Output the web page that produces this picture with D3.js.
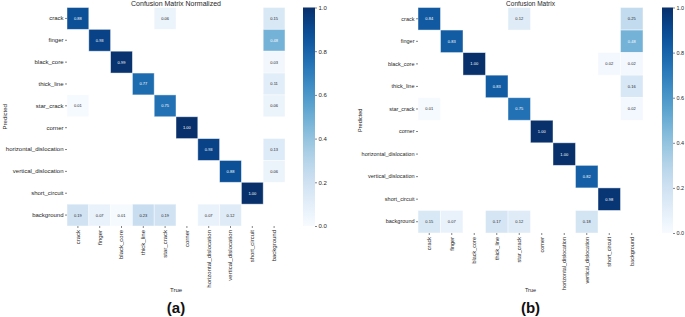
<!DOCTYPE html>
<html><head><meta charset="utf-8">
<script src="https://cdn.jsdelivr.net/npm/d3@7"></script>
<style>body{margin:0;background:#fff}svg{display:block;font-family:"Liberation Sans",Arial,sans-serif}</style>
</head><body><svg id="c" width="685" height="317"></svg>
<script>
const labels = ["crack","finger","black_core","thick_line","star_crack","corner","horizontal_dislocation","vertical_dislocation","short_circuit","background"];
const matrixA = [
  [0.88,0,0,0,0.06,0,0,0,0,0.15],
  [0,0.93,0,0,0,0,0,0,0,0.48],
  [0,0,0.99,0,0,0,0,0,0,0.03],
  [0,0,0,0.77,0,0,0,0,0,0.11],
  [0.01,0,0,0,0.75,0,0,0,0,0.06],
  [0,0,0,0,0,1.00,0,0,0,0],
  [0,0,0,0,0,0,0.93,0,0,0.13],
  [0,0,0,0,0,0,0,0.88,0,0.06],
  [0,0,0,0,0,0,0,0,1.00,0],
  [0.19,0.07,0.01,0.23,0.19,0,0.07,0.12,0,0]
];
const matrixB = [
  [0.84,0,0,0,0.12,0,0,0,0,0.25],
  [0,0.83,0,0,0,0,0,0,0,0.48],
  [0,0,1.00,0,0,0,0,0,0.02,0.02],
  [0,0,0,0.83,0,0,0,0,0,0.16],
  [0.01,0,0,0,0.75,0,0,0,0,0.02],
  [0,0,0,0,0,1.00,0,0,0,0],
  [0,0,0,0,0,0,1.00,0,0,0],
  [0,0,0,0,0,0,0,0.82,0,0],
  [0,0,0,0,0,0,0,0,0.98,0],
  [0.15,0.07,0,0.17,0.12,0,0,0.18,0,0]
];
const cbTicks = [0,0.2,0.4,0.6,0.8,1.0];

const svg = d3.select("#c");
const color = d3.scaleSequential(d3.interpolateBlues).domain([0,1]);
const defs = svg.append("defs");
const grad = defs.append("linearGradient").attr("id","gb").attr("x1",0).attr("y1",1).attr("x2",0).attr("y2",0);
d3.range(0,1.0001,0.05).forEach(t=>grad.append("stop").attr("offset",t).attr("stop-color",color(t)));

function panel(o){
  const g = svg.append("g");
  const x = d3.scaleBand().domain(labels).range([o.x0,o.x1]);
  const y = d3.scaleBand().domain(labels).range([o.y0,o.y1]);
  const cells = [];
  o.data.forEach((row,i)=>row.forEach((v,j)=>{ if(v>0) cells.push({r:labels[i],c:labels[j],v}); }));
  g.selectAll("rect.cell").data(cells).join("rect")
    .attr("x",d=>x(d.c)).attr("y",d=>y(d.r))
    .attr("width",x.bandwidth()).attr("height",y.bandwidth())
    .attr("fill",d=>color(d.v)).attr("stroke","rgba(255,255,255,0.55)").attr("stroke-width",0.8);
  g.selectAll("text.ann").data(cells).join("text")
    .attr("x",d=>x(d.c)+x.bandwidth()/2).attr("y",d=>y(d.r)+y.bandwidth()/2)
    .attr("text-anchor","middle").attr("dominant-baseline","central")
    .attr("font-size",o.annFs).attr("fill",d=>d.v>=0.45?"#fff":"#262626")
    .text(d=>d.v.toFixed(2));
  const ya = g.append("g").attr("transform",`translate(${o.x0},0)`)
    .call(d3.axisLeft(y).tickSize(2).tickPadding(1.5));
  ya.select(".domain").remove();
  ya.selectAll("text").attr("font-size",o.fs).attr("fill","#262626");
  ya.selectAll("line").attr("stroke","#333").attr("stroke-width",0.6);
  const xa = g.append("g").attr("transform",`translate(0,${o.y1})`)
    .call(d3.axisBottom(x).tickSize(2).tickPadding(1.5));
  xa.select(".domain").remove();
  xa.selectAll("line").attr("stroke","#333").attr("stroke-width",0.6);
  xa.selectAll("text").attr("font-size",o.fs).attr("fill","#262626")
    .attr("transform","rotate(-90)").attr("text-anchor","end")
    .attr("dy","0.32em").attr("x",-4).attr("y",0);
  const cx = (o.x0+o.x1)/2;
  g.append("text").attr("x",cx).attr("y",6).attr("text-anchor","middle")
    .attr("font-size",o.titleFs).attr("fill","#262626").text(o.title);
  g.append("text").attr("x",cx).attr("y",292).attr("text-anchor","middle")
    .attr("font-size",o.fs).attr("fill","#262626").text("True");
  g.append("text").attr("transform",`translate(${o.predX},${(o.y0+o.y1)/2}) rotate(-90)`)
    .attr("text-anchor","middle").attr("font-size",o.fs).attr("fill","#262626").text("Predicted");
  g.append("text").attr("x",cx).attr("y",313).attr("text-anchor","middle")
    .attr("font-size",15).attr("font-weight","bold").attr("fill","#111").text(o.tag);
  // colorbar
  const cy = d3.scaleLinear().domain([0,1]).range([o.y1,o.y0]);
  g.append("rect").attr("x",o.cbx).attr("y",o.y0).attr("width",o.cbw).attr("height",o.y1-o.y0).attr("fill","url(#gb)");
  const ca = g.append("g").attr("transform",`translate(${o.cbx+o.cbw},0)`)
    .call(d3.axisRight(cy).tickValues(cbTicks).tickFormat(d3.format(".1f")).tickSize(2).tickPadding(1.5));
  ca.select(".domain").remove();
  ca.selectAll("line").attr("stroke","#333").attr("stroke-width",0.6);
  ca.selectAll("text").attr("font-size",o.fs).attr("fill","#262626");
}

panel({data:matrixA,x0:67,x1:285,y0:7.5,y1:226,cbx:303,cbw:12,fs:6,annFs:4,titleFs:7,
  title:"Confusion Matrix Normalized",predX:7,tag:"(a)"});
panel({data:matrixB,x0:418,x1:643,y0:7.5,y1:233,cbx:662,cbw:11,fs:5.5,annFs:4,titleFs:6.5,
  title:"Confusion Matrix",predX:362,tag:"(b)"});
</script></body></html>
